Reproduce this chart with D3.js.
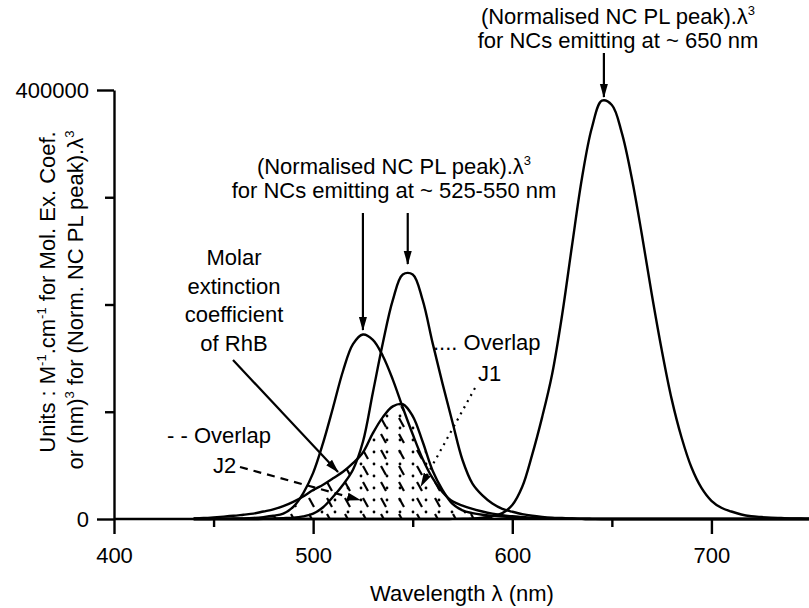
<!DOCTYPE html>
<html>
<head>
<meta charset="utf-8">
<script src="https://cdn.jsdelivr.net/npm/d3@7"></script>
<style>
    body { margin: 0; background: #fff; }
    #chart { width: 809px; height: 608px; }
    text { font-family: 'Liberation Sans', Arial, Helvetica, sans-serif; fill: #000; }
</style>
</head>
<body>
<div id="chart"></div>
<script>
// wavelength grid (nm) shared by every spectrum
const wavelengths = [440, 445, 450, 455, 460, 465, 470, 475, 480, 485, 490, 495, 500, 505, 510, 515, 520, 525, 530, 535,
    540, 545, 550, 555, 560, 565, 570, 575, 580, 585, 590, 595, 600, 605, 610, 615, 620, 625, 630, 635,
    640, 645, 650, 655, 660, 665, 670, 675, 680, 685, 690, 695, 700, 705, 710, 715, 720, 725, 730, 735,
    740, 745, 750];

// molar extinction coefficient of RhB (M-1.cm-1)
const rhbExtinction = [500, 900, 1500, 2200, 3000, 4000, 5000, 7000, 9000, 12000, 16000, 21000, 27000, 32000, 38000, 44000, 52000, 62000, 80000, 95000,
    105000, 107000, 96000, 72000, 45000, 27000, 14000, 8000, 5500, 4000, 3000, 2200, 1500, 1000, 700, 500, 400, 300, 200, 100,
    0, 0, 0, 0, 0, 0, 0, 0, 0, 0, 0, 0, 0, 0, 0, 0, 0, 0, 0, 0,
    0, 0, 0];

// (normalised NC PL peak).lambda^3, NCs emitting at ~525 nm
const pl525 = [0, 0, 100, 200, 400, 600, 1000, 1800, 3000, 5000, 11300, 24000, 43000, 71000, 104000, 138000, 163000, 172000, 167000, 152000,
    130000, 104000, 79000, 56000, 38000, 25000, 16500, 12500, 9500, 7000, 5000, 3500, 2500, 1800, 1200, 800, 500, 300, 200, 100,
    0, 0, 0, 0, 0, 0, 0, 0, 0, 0, 0, 0, 0, 0, 0, 0, 0, 0, 0, 0,
    0, 0, 0];

// NCs emitting at ~550 nm
const pl550 = [0, 0, 0, 0, 0, 0, 0, 200, 500, 800, 1200, 2500, 5000, 11000, 20700, 32000, 46000, 72000, 118000, 164000,
    204000, 228000, 228000, 204000, 164000, 126000, 90000, 55000, 33000, 22000, 14500, 9500, 6800, 4500, 3000, 2000, 1300, 900, 500, 300,
    150, 0, 0, 0, 0, 0, 0, 0, 0, 0, 0, 0, 0, 0, 0, 0, 0, 0, 0, 0,
    0, 0, 0];

// NCs emitting at ~650 nm
const pl650 = [0, 0, 0, 0, 0, 0, 0, 0, 0, 0, 0, 0, 0, 0, 0, 0, 0, 0, 0, 0,
    0, 0, 0, 0, 0, 0, 100, 200, 500, 1200, 2500, 5500, 13000, 30000, 60000, 95000, 135000, 190000, 255000, 318000,
    365000, 390000, 386000, 360000, 318000, 266000, 210000, 158000, 112000, 76000, 48000, 29000, 17000, 10500, 7000, 4200, 2600, 1800, 1200, 900,
    600, 400, 300];

// tick values
const xMajorTicks = [400, 500, 600, 700];
const xMinorTicks = [450, 550, 650, 750];
const yMajorTicks = [0, 400000];
const yMinorTicks = [100000, 200000, 300000];

// peaks pointed at by the annotation arrows (nm)
const peakMarks = [525, 547.5, 646];

// defining Factory function
function SpectraChart(_) {

    function exports() {
        const root = _;
        const container = d3.select(root);

        // declaring setup/layout variables
        const width = 809;
        const height = 608;
        const fontSize = 22;
        const supSize = 13;
        const lineW = 2.4;

        // setting up scales
        const x = d3.scaleLinear()
            .domain([400, 750])
            .range([114, 811]);
        const y = d3.scaleLinear()
            .domain([0, 400000])
            .range([519, 90]);

        const svg = container.append('svg')
            .attr('width', width)
            .attr('height', height);

        svg.append('rect')
            .attr('width', width)
            .attr('height', height)
            .attr('fill', '#fff');

        const defs = svg.append('defs');

        // arrow head
        defs.append('marker')
            .attr('id', 'arrow')
            .attr('viewBox', '0 -5 14 10')
            .attr('refX', 13)
            .attr('refY', 0)
            .attr('markerWidth', 14)
            .attr('markerHeight', 10)
            .attr('markerUnits', 'userSpaceOnUse')
            .attr('orient', 'auto')
            .append('path')
            .attr('d', 'M0,-4L14,0L0,4Z')
            .attr('fill', '#000');

        // hatch for overlap J2 (dashes)
        const dashPat = defs.append('pattern')
            .attr('id', 'hatch-j2')
            .attr('patternUnits', 'userSpaceOnUse')
            .attr('width', 18)
            .attr('height', 16);
        dashPat.append('line')
            .attr('x1', 3).attr('y1', 2)
            .attr('x2', 8).attr('y2', 11)
            .attr('stroke', '#000')
            .attr('stroke-width', 2.2);

        // hatch for overlap J1 (dots)
        const dotPat = defs.append('pattern')
            .attr('id', 'hatch-j1')
            .attr('patternUnits', 'userSpaceOnUse')
            .attr('width', 13)
            .attr('height', 12);
        dotPat.append('circle')
            .attr('cx', 10).attr('cy', 8)
            .attr('r', 1.4)
            .attr('fill', '#000');

        // building the data rows
        const rows = wavelengths.map((w, i) => ({
            w: w,
            rhb: rhbExtinction[i],
            a: pl525[i],
            b: pl550[i],
            c: pl650[i]
        }));

        const curve = d3.curveCatmullRom.alpha(0.5);

        /* OVERLAP AREAS */
        const areaJ2 = d3.area()
            .x(d => x(d.w))
            .y0(y(0))
            .y1(d => y(Math.min(d.rhb, d.a)))
            .curve(curve);
        const areaJ1 = d3.area()
            .x(d => x(d.w))
            .y0(y(0))
            .y1(d => y(Math.min(d.rhb, d.b)))
            .curve(curve);

        svg.append('path')
            .datum(rows)
            .attr('d', areaJ2)
            .attr('fill', 'url(#hatch-j2)');
        svg.append('path')
            .datum(rows)
            .attr('d', areaJ1)
            .attr('fill', 'url(#hatch-j1)');

        /* SPECTRA */
        const series = ['rhb', 'a', 'b', 'c'];
        svg.append('g')
            .classed('spectra', true)
            .selectAll('path')
            .data(series)
            .enter()
            .append('path')
            .attr('d', key => d3.line()
                .x(d => x(d.w))
                .y(d => y(d[key]))
                .curve(curve)(rows))
            .attr('fill', 'none')
            .attr('stroke', '#000')
            .attr('stroke-width', lineW)
            .attr('stroke-linejoin', 'round');

        /* AXES */
        const xMajor = svg.append('g')
            .attr('transform', `translate(0,${y(0)})`)
            .call(d3.axisBottom(x)
                .tickValues(xMajorTicks)
                .tickSize(15)
                .tickSizeOuter(0)
                .tickPadding(13)
                .tickFormat(d3.format('d')));
        xMajor.select('.domain')
            .attr('d', `M${x(400)},0H809`);
        const xMinor = svg.append('g')
            .attr('transform', `translate(0,${y(0)})`)
            .call(d3.axisBottom(x)
                .tickValues(xMinorTicks)
                .tickSize(8)
                .tickFormat(''));
        xMinor.select('.domain').remove();

        const yMajor = svg.append('g')
            .attr('transform', `translate(${x(400)},0)`)
            .call(d3.axisLeft(y)
                .tickValues(yMajorTicks)
                .tickSize(17)
                .tickSizeOuter(0)
                .tickPadding(8)
                .tickFormat(d3.format('d')));
        const yMinor = svg.append('g')
            .attr('transform', `translate(${x(400)},0)`)
            .call(d3.axisLeft(y)
                .tickValues(yMinorTicks)
                .tickSize(9)
                .tickFormat(''));
        yMinor.select('.domain').remove();

        svg.selectAll('.domain, .tick line')
            .attr('stroke', '#000')
            .attr('stroke-width', lineW);
        svg.selectAll('.tick text')
            .attr('font-size', fontSize)
            .attr('font-family', null);

        /* TEXT */
        // helper for text with superscripts
        function richText(sel, px, py, parts, anchor, rotate) {
            const t = sel.append('text')
                .attr('x', px)
                .attr('y', py)
                .attr('text-anchor', anchor || 'middle')
                .attr('font-size', fontSize);
            if (rotate) t.attr('transform', `rotate(${rotate},${px},${py})`);
            let shift = 0;
            parts.forEach(p => {
                const s = p.sup ? -9 : 0;
                t.append('tspan')
                    .attr('dy', s - shift)
                    .attr('font-size', p.sup ? supSize : null)
                    .text(p.sup || p.t);
                shift = s;
            });
            return t;
        }

        // axis titles
        richText(svg, 462, 601, [{t: 'Wavelength \u03bb (nm)'}]);
        richText(svg, 55, 292, [{t: 'Units : M'}, {sup: '-1'}, {t: '.cm'}, {sup: '-1'}, {t: ' for Mol. Ex. Coef.'}], 'middle', -90);
        richText(svg, 83, 300, [{t: 'or (nm)'}, {sup: '3'}, {t: ' for (Norm. NC PL peak).\u03bb'}, {sup: '3'}], 'middle', -90);

        // annotation for the 650 nm NCs
        richText(svg, 618, 24, [{t: '(Normalised NC PL peak).\u03bb'}, {sup: '3'}]);
        richText(svg, 618, 48, [{t: 'for NCs emitting at ~ 650 nm'}]);

        // annotation for the 525-550 nm NCs
        richText(svg, 394, 174, [{t: '(Normalised NC PL peak).\u03bb'}, {sup: '3'}]);
        richText(svg, 394, 198, [{t: 'for NCs emitting at ~ 525-550 nm'}]);

        // RhB label
        ['Molar', 'extinction', 'coefficient', 'of RhB'].forEach((s, i) => {
            richText(svg, 234, 265 + i * 28.5, [{t: s}]);
        });

        // overlap labels
        richText(svg, 167, 443, [{t: '- - Overlap'}], 'start');
        richText(svg, 213, 473, [{t: 'J2'}], 'start');
        richText(svg, 433, 350, [{t: '.... Overlap'}], 'start');
        richText(svg, 478, 381, [{t: 'J1'}], 'start');

        /* ARROWS */
        const arrows = [
            {x1: x(peakMarks[2]), y1: 53, x2: x(peakMarks[2]), y2: 97, dash: null},
            {x1: x(peakMarks[0]), y1: 213, x2: x(peakMarks[0]), y2: 330, dash: null},
            {x1: x(peakMarks[1]), y1: 213, x2: x(peakMarks[1]), y2: 264, dash: null},
            {x1: 233, y1: 360, x2: 338, y2: 472, dash: null},
            {x1: 240, y1: 467, x2: 360, y2: 500, dash: '8,6'},
            {x1: 475, y1: 388, x2: 421, y2: 486, dash: '2,5'}
        ];
        svg.append('g')
            .classed('arrows', true)
            .selectAll('line')
            .data(arrows)
            .enter()
            .append('line')
            .attr('x1', d => d.x1)
            .attr('y1', d => d.y1)
            .attr('x2', d => d.x2)
            .attr('y2', d => d.y2)
            .attr('stroke', '#000')
            .attr('stroke-width', 2.2)
            .attr('stroke-dasharray', d => d.dash)
            .attr('marker-end', 'url(#arrow)');
    }

    return exports;
}

const chart = SpectraChart(document.getElementById('chart'));
chart();
</script>
</body>
</html>
